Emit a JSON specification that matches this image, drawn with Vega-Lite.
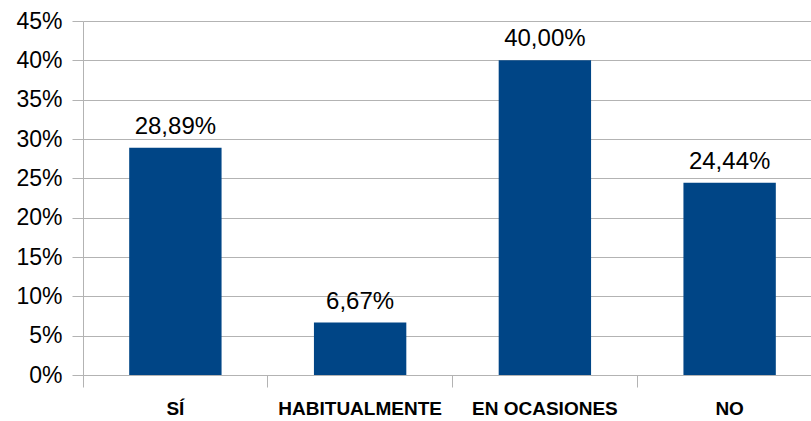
{
  "$schema": "https://vega.github.io/schema/vega-lite/v6.json",
  "autosize": "none",
  "width": 728,
  "height": 354,
  "padding": {"left": 83, "top": 21, "right": 0, "bottom": 46},
  "background": "white",
  "data": {"values": [
    {"cat": "SÍ", "v": 0.2889},
    {"cat": "HABITUALMENTE", "v": 0.0667},
    {"cat": "EN OCASIONES", "v": 0.40},
    {"cat": "NO", "v": 0.2444}
  ]},
  "config": {
    "locale": {"number": {"decimal": ",", "thousands": ".", "grouping": [3], "currency": ["", " €"]}},
    "font": "Liberation Sans",
    "view": {"stroke": null}
  },
  "encoding": {
    "y": {"field": "v", "type": "quantitative",
      "scale": {"domain": [0, 0.45], "nice": false},
      "axis": {"title": null, "format": ".0%", "values": [0, 0.05, 0.1, 0.15, 0.2, 0.25, 0.3, 0.35, 0.4, 0.45],
        "labelOverlap": false,
        "grid": true, "gridColor": "#b3b3b3", "gridWidth": 1,
        "domain": true, "domainColor": "#b3b3b3", "tickColor": "#b3b3b3", "tickSize": 11,
        "labelFont": "Liberation Sans", "labelFontSize": 23, "labelColor": "#000000", "labelPadding": 10}}
  },
  "layer": [
    {
      "mark": {"type": "bar", "color": "#004586"},
      "encoding": {
        "x": {"field": "cat", "type": "nominal", "sort": null,
          "scale": {"range": [0, 739], "paddingInner": 0.5, "paddingOuter": 0.25},
          "axis": {"title": null, "orient": "bottom", "ticks": false, "domain": false, "labelAngle": 0,
            "labelFont": "Liberation Sans", "labelFontWeight": "bold", "labelFontSize": 19, "labelColor": "#000000",
            "labelBaseline": "top", "labelPadding": 24}}
      }
    },
    {
      "mark": {"type": "text", "font": "Liberation Sans", "fontSize": 24, "color": "#000000", "baseline": "alphabetic", "dy": -14},
      "encoding": {
        "x": {"field": "cat", "type": "nominal", "sort": null,
          "axis": {"title": null, "orient": "bottom", "labels": false, "bandPosition": -0.5, "ticks": true, "tickSize": 12,
            "tickColor": "#b3b3b3", "domain": true, "domainColor": "#b3b3b3"}},
        "text": {"field": "v", "type": "quantitative", "format": ".2%"}
      }
    }
  ],
  "resolve": {"axis": {"x": "independent"}}
}
